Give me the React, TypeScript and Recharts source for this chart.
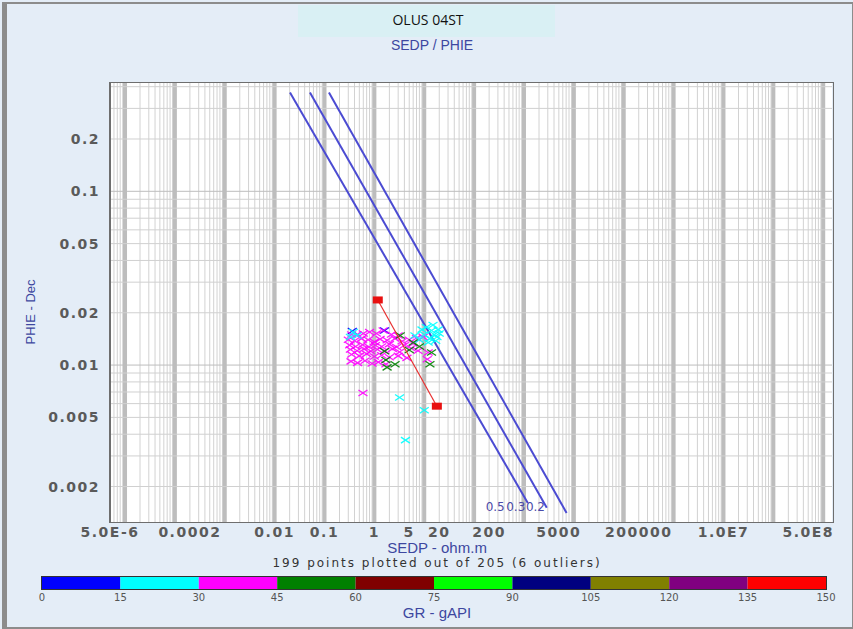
import React from 'react';
import { ScatterChart, Scatter, XAxis, YAxis, ReferenceLine, BarChart, Bar } from 'recharts';

// ---- axis ticks ----
const xTickValues = [5e-6, 2e-4, 0.01, 0.1, 1, 5, 20, 200, 5000, 200000, 1e7, 5e8];
const xTickLabels = ['5.0E-6', '0.0002', '0.01', '0.1', '1', '5', '20', '200', '5000', '200000', '1.0E7', '5.0E8'];
const yTickValues = [0.2, 0.1, 0.05, 0.02, 0.01, 0.005, 0.002];
const yTickLabels = ['0.2', '0.1', '0.05', '0.02', '0.01', '0.005', '0.002'];
const xDomain = [5e-6, 1.5e9];
const yDomain = [0.00125, 0.42];

// ---- colour scale (GR) ----
const grTicks = [0, 15, 30, 45, 60, 75, 90, 105, 120, 135, 150];
const grColors = ['#0000ff', '#00ffff', '#ff00ff', '#008000', '#800000', '#00ff00', '#000080', '#808000', '#800080', '#ff0000'];

// ---- scatter points [SEDP, PHIE] by GR band ----
const grBlue: [number, number][] = [[1.6, 0.0158], [0.36, 0.0157]];
const grCyan: [number, number][] = [
  [0.38, 0.0155], [0.45, 0.0148], [0.33, 0.0145], [9, 0.0160], [11, 0.0165], [14, 0.0158],
  [16, 0.0150], [18, 0.0145], [13, 0.0142], [10, 0.0150], [17, 0.0138], [20, 0.0152],
  [15, 0.0170], [12, 0.0135], [6.5, 0.0148], [19, 0.0160], [8, 0.0140],
  [3.2, 0.0065], [10, 0.0055], [4.2, 0.0037],
];
const grMagenta: [number, number][] = [
  [0.35, 0.0150], [0.45, 0.0150], [0.6, 0.0152], [0.8, 0.0155], [1.1, 0.0152], [1.5, 0.0158], [2.2, 0.0150], [3.0, 0.0148],
  [0.30, 0.0140], [0.40, 0.0138], [0.55, 0.0142], [0.75, 0.0140], [1.0, 0.0136], [1.3, 0.0141], [1.8, 0.0139], [2.6, 0.0142],
  [3.6, 0.0137], [5.0, 0.0140], [7.0, 0.0143], [9.5, 0.0145],
  [0.32, 0.0130], [0.42, 0.0128], [0.58, 0.0131], [0.78, 0.0127], [1.05, 0.0130], [1.4, 0.0128], [2.0, 0.0132], [2.8, 0.0127],
  [4.0, 0.0130], [6.0, 0.0133], [5.5, 0.0125], [7.5, 0.0121],
  [0.33, 0.0123], [0.45, 0.0121], [0.62, 0.0124], [0.85, 0.0120], [1.15, 0.0123], [1.6, 0.0121], [2.3, 0.0124], [3.2, 0.0119],
  [0.35, 0.0115], [0.5, 0.0113], [0.7, 0.0116], [1.0, 0.0112], [1.4, 0.0114], [2.0, 0.0111], [3.0, 0.0113], [12, 0.0118],
  [0.34, 0.0105], [0.46, 0.0103], [0.65, 0.0106], [0.9, 0.0102], [1.2, 0.0104], [1.7, 0.0101], [4.5, 0.0110],
  [11.5, 0.0108], [0.59, 0.0069],
];
const grGreen: [number, number][] = [
  [1.7, 0.0107], [2.6, 0.0101], [1.8, 0.0097], [13, 0.0101], [3.3, 0.0148], [6, 0.0135],
  [8, 0.0128], [1.6, 0.0120], [5, 0.0122], [14, 0.0118],
];

// ---- regression line (red) ----
const regression: [number, number][] = [[1.17, 0.0237], [17.9, 0.0058]];

// ---- Pickett Sw lines ----
const swLine05: [number, number][] = [[0.0203, 0.3707], [1192, 0.00161]];
const swLine03: [number, number][] = [[0.0510, 0.3707], [2864, 0.00151]];
const swLine02: [number, number][] = [[0.1226, 0.3707], [7150, 0.00141]];
const swLabels = ['0.5', '0.3', '0.2'];
const swLabelPos: [number, number][] = [[265, 0.00155], [685, 0.00155], [1700, 0.00155]];

// ---- grid values (log minor lines) ----
const decades = [-6, -5, -4, -3, -2, -1, 0, 1, 2, 3, 4, 5, 6, 7, 8, 9];
const mults = [1, 2, 3, 4, 5, 6, 7, 8, 9];
const gridVals = decades.flatMap((d) => mults.map((m) => ({ v: Number((m * Math.pow(10, d)).toPrecision(3)), major: m === 1 })));
const xGrid = gridVals.filter((g) => g.v > xDomain[0] && g.v < xDomain[1]);
const yGrid = gridVals.filter((g) => g.v > yDomain[0] && g.v < yDomain[1]);

const toPts = (arr: [number, number][]) => arr.map(([rt, phi]) => ({ rt, phi }));

const fmt = (vals: number[], labels: string[]) => (v: number) => {
  const i = vals.findIndex((t) => Math.abs(t - v) / t < 1e-6);
  return i >= 0 ? labels[i] : '';
};

const BLUE_TEXT = '#3d47a0';

const XMark = (props: any) => {
  const { cx, cy, fill } = props;
  if (cx == null || cy == null) return <g />;
  return (
    <g stroke={fill} strokeWidth={1.3} opacity={0.9}>
      <line x1={cx - 4.5} y1={cy - 3} x2={cx + 4.5} y2={cy + 3} />
      <line x1={cx - 4.5} y1={cy + 3} x2={cx + 4.5} y2={cy - 3} />
    </g>
  );
};

const RedSquare = (props: any) => {
  const { cx, cy } = props;
  if (cx == null || cy == null) return <g />;
  return <rect x={cx - 5} y={cy - 3.5} width={10} height={7} fill="#e81010" />;
};

const NoShape = () => <g />;

const SwLabel = (props: any) => {
  const { cx, cy } = props;
  const text = props.payload?.text ?? props.text;
  if (cx == null || cy == null) return <g />;
  return (
    <text x={cx} y={cy} dy={5} textAnchor="middle" fill="#4a4aa8" fontSize={12} fontFamily="DejaVu Sans">
      {text}
    </text>
  );
};

const tickStyle = { fill: '#5a5a5a', fontSize: 14, fontWeight: 'bold', fontFamily: 'DejaVu Sans', letterSpacing: 1.5 } as any;

export default function App() {
  const labelData = swLabelPos.map(([rt, phi], i) => ({ rt, phi, text: swLabels[i] }));
  const grRow: any = { name: 'gr' };
  grColors.forEach((_, i) => { grRow['b' + i] = grTicks[i + 1] - grTicks[i]; });

  return (
    <div style={{ position: 'absolute', left: 0, top: 0, width: 853, height: 629, background: '#e4edf7', overflow: 'hidden' }}>
      {/* frame */}
      <div style={{ position: 'absolute', left: 2, top: 2, width: 845, height: 623, border: '2px solid #8c8c8c', borderLeft: '5px solid #8c8c8c' }} />
      {/* title box */}
      <div style={{ position: 'absolute', left: 298, top: 5, width: 257, height: 32, background: '#d9f0f4' }} />
      <div style={{ position: 'absolute', left: 0, width: 856, top: 10, textAlign: 'center', fontFamily: 'Open Sans', fontSize: 14, color: '#111' }}>OLUS 04ST</div>
      <div style={{ position: 'absolute', left: 0, width: 864, top: 37, textAlign: 'center', fontFamily: 'Liberation Sans', fontSize: 14, color: BLUE_TEXT }}>SEDP / PHIE</div>
      {/* plot background */}
      <div style={{ position: 'absolute', left: 110, top: 83, width: 722, height: 439, background: '#ffffff' }} />

      <div style={{ position: 'absolute', left: 0, top: 0 }}>
        <ScatterChart width={853} height={629} margin={{ top: 83, right: 21, bottom: 77, left: 50 }}>
          <XAxis
            type="number" dataKey="rt" scale="log" domain={xDomain} allowDataOverflow
            ticks={xTickValues} interval={0} tickFormatter={fmt(xTickValues, xTickLabels)}
            tickLine={false} axisLine={false} tickSize={0} tickMargin={5} height={30} tick={tickStyle}
          />
          <YAxis
            type="number" dataKey="phi" scale="log" domain={yDomain} allowDataOverflow
            ticks={yTickValues} interval={0} tickFormatter={fmt(yTickValues, yTickLabels)}
            tickLine={false} axisLine={false} tickSize={0} tickMargin={10} width={60} tick={tickStyle}
          />
          {xGrid.map((g) => (
            <ReferenceLine key={'x' + g.v} x={g.v} stroke={g.major ? '#bdbdbd' : '#d2d2d2'} strokeWidth={g.major ? 4 : 1} />
          ))}
          {yGrid.map((g) => (
            <ReferenceLine key={'y' + g.v} y={g.v} stroke={g.major ? '#bdbdbd' : '#d0d0d0'} strokeWidth={1} />
          ))}
          <Scatter data={toPts(swLine05)} line={{ stroke: '#4b4bd2', strokeWidth: 2 }} shape={NoShape} isAnimationActive={false} />
          <Scatter data={toPts(swLine03)} line={{ stroke: '#4b4bd2', strokeWidth: 2 }} shape={NoShape} isAnimationActive={false} />
          <Scatter data={toPts(swLine02)} line={{ stroke: '#4b4bd2', strokeWidth: 2 }} shape={NoShape} isAnimationActive={false} />
          <Scatter data={toPts(grBlue)} fill={grColors[0]} shape={XMark} isAnimationActive={false} />
          <Scatter data={toPts(grMagenta)} fill={grColors[2]} shape={XMark} isAnimationActive={false} />
          <Scatter data={toPts(grCyan)} fill={grColors[1]} shape={XMark} isAnimationActive={false} />
          <Scatter data={toPts(grGreen)} fill={grColors[3]} shape={XMark} isAnimationActive={false} />
          <Scatter data={toPts(regression)} line={{ stroke: '#e83030', strokeWidth: 1.2 }} shape={RedSquare} isAnimationActive={false} />
          <Scatter data={labelData} shape={SwLabel} isAnimationActive={false} />
        </ScatterChart>
      </div>
      {/* plot border */}
      <div style={{ position: 'absolute', left: 109, top: 82, width: 722, height: 439, border: '1px solid #6e6e6e', borderLeftWidth: 2 }} />

      {/* y label */}
      <div style={{ position: 'absolute', left: 30, top: 312, transform: 'translate(-50%,-50%) rotate(-90deg)', whiteSpace: 'nowrap', fontFamily: 'Liberation Sans Narrow, Liberation Sans', fontSize: 13, color: BLUE_TEXT }}>PHIE - Dec</div>
      {/* x label */}
      <div style={{ position: 'absolute', left: 0, width: 874, top: 539, textAlign: 'center', fontFamily: 'Liberation Sans', fontSize: 15, color: BLUE_TEXT }}>SEDP - ohm.m</div>
      <div style={{ position: 'absolute', left: 0, width: 874, top: 556, textAlign: 'center', fontFamily: 'DejaVu Sans', fontSize: 12, color: '#333', letterSpacing: 2 }}>199 points plotted out of 205 (6 outliers)</div>

      {/* colour bar */}
      <div style={{ position: 'absolute', left: 0, top: 570 }}>
        <BarChart width={853} height={44} layout="vertical" data={[grRow]} margin={{ top: 7, right: 27, bottom: 0, left: 42 }} barCategoryGap={0}>
          <XAxis type="number" domain={[grTicks[0], grTicks[grTicks.length - 1]]} ticks={grTicks} interval={0}
            tickLine={false} axisLine={false} tickSize={0} tickMargin={5} height={25}
            tick={{ fill: '#555', fontSize: 10, fontFamily: 'DejaVu Sans' }} />
          <YAxis type="category" dataKey="name" hide width={0} />
          {grColors.map((c, i) => (
            <Bar key={i} dataKey={'b' + i} stackId="s" fill={c} isAnimationActive={false} />
          ))}
        </BarChart>
      </div>
      <div style={{ position: 'absolute', left: 41, top: 576, width: 784, height: 12, border: '1px solid #333' }} />
      <div style={{ position: 'absolute', left: 0, width: 874, top: 604, textAlign: 'center', fontFamily: 'Liberation Sans', fontSize: 15, color: BLUE_TEXT }}>GR - gAPI</div>
    </div>
  );
}
